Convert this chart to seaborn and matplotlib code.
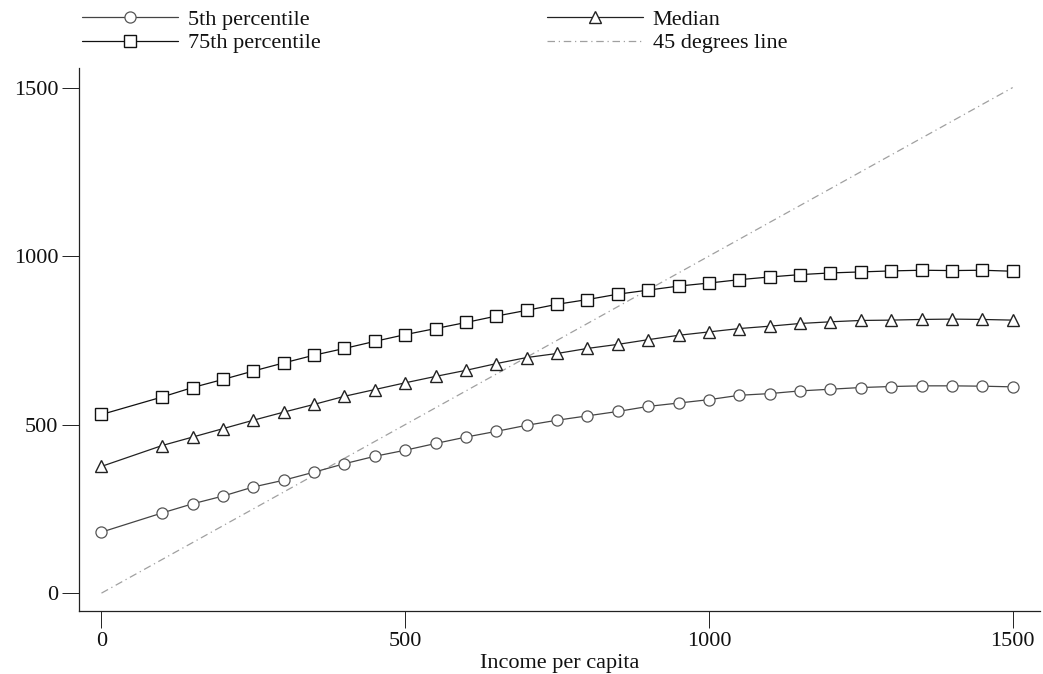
import numpy as np
import pandas as pd
import matplotlib
matplotlib.use("Agg")
import matplotlib.pyplot as plt
import seaborn as sns

income = [0, 100, 150, 200, 250, 300, 350, 400, 450, 500, 550, 600, 650, 700,
          750, 800, 850, 900, 950, 1000, 1050, 1100, 1150, 1200, 1250, 1300,
          1350, 1400, 1450, 1500]
p5 = [181, 238, 265, 288, 315, 335, 359, 384, 406, 424, 444, 463, 480, 498,
      513, 526, 539, 554, 564, 574, 587, 592, 600, 605, 610, 613, 615, 615, 614, 612]
median = [376, 438, 463, 488, 513, 537, 560, 584, 604, 624, 643, 661, 681, 699,
          711, 726, 738, 752, 765, 775, 785, 792, 800, 805, 809, 810, 812, 813, 812, 810]
p75 = [530, 582, 610, 634, 659, 683, 706, 726, 747, 767, 785, 803, 822, 839,
       857, 871, 887, 899, 911, 920, 930, 938, 945, 950, 953, 956, 958, 957, 958, 955]
diag_x = [0, 1500]
diag_y = [0, 1500]
labels = ["5th percentile", "75th percentile", "Median", "45 degrees line"]

sns.set_theme(style="ticks")
plt.rcParams['font.family'] = ['Liberation Serif', 'DejaVu Serif']

fig = plt.figure(figsize=(10.43, 6.74), dpi=100)
ax = fig.add_axes([79/1043, (674-611)/674, (1040-79)/1043, (611-68)/674])

df = pd.DataFrame({"income": income, "p5": p5, "median": median, "p75": p75})
dd = pd.DataFrame({"x": diag_x, "y": diag_y})

sns.lineplot(data=dd, x="x", y="y", ax=ax, color="#a0a0a0", lw=0.9,
             linestyle=(0, (6, 3, 1, 3)), label=labels[3])
sns.lineplot(data=df, x="income", y="p5", ax=ax, color="#444444", lw=0.9,
             marker="o", markersize=8, markerfacecolor="white",
             markeredgecolor="#555555", markeredgewidth=0.9, label=labels[0])
sns.lineplot(data=df, x="income", y="median", ax=ax, color="#222222", lw=0.9,
             marker="^", markersize=9, markerfacecolor="white",
             markeredgecolor="#222222", markeredgewidth=1.0, label=labels[2])
sns.lineplot(data=df, x="income", y="p75", ax=ax, color="#111111", lw=0.9,
             marker="s", markersize=8, markerfacecolor="white",
             markeredgecolor="#111111", markeredgewidth=1.0, label=labels[1])

ax.set_xlim(-37, 1545)
ax.set_ylim(-53, 1558)
ax.set_xticks([0, 500, 1000, 1500])
ax.set_yticks([0, 500, 1000, 1500])
ax.tick_params(axis="both", labelsize=16, length=12, width=0.7, color="#222222",
               labelcolor="#111111", pad=3)
ax.set_xlabel("Income per capita", fontsize=16, color="#111111", labelpad=2)
ax.set_ylabel("")
for s in ["top", "right"]:
    ax.spines[s].set_visible(False)
for s in ["left", "bottom"]:
    ax.spines[s].set_linewidth(0.9)
    ax.spines[s].set_color("#222222")

handles, labs = ax.get_legend_handles_labels()
order = [labs.index(l) for l in labels]
leg = ax.legend([handles[i] for i in order], [labs[i] for i in order],
                ncol=2, frameon=False, fontsize=16, loc="upper left",
                bbox_to_anchor=(80/1043, 0.99), bbox_transform=fig.transFigure,
                borderaxespad=0, borderpad=0.1, handlelength=4.3,
                handletextpad=0.45, columnspacing=10.2, labelspacing=0.15,
                numpoints=1)
for t in leg.get_texts():
    t.set_color("#111111")

fig.savefig("out.png", dpi=100, facecolor="white")
